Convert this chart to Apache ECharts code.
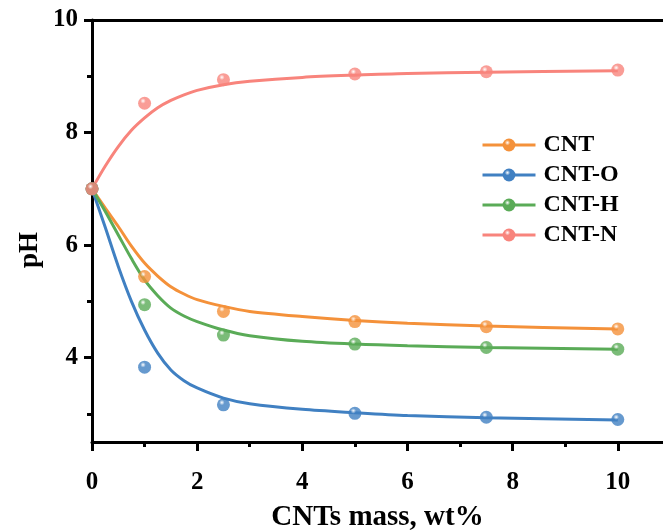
<!DOCTYPE html>
<html>
<head>
<meta charset="utf-8">
<script src="https://cdn.jsdelivr.net/npm/echarts@6/dist/echarts.min.js"></script>
<style>
  html, body { margin: 0; padding: 0; background: #fff; }
  #chart { width: 663px; height: 530px; }
</style>
</head>
<body>
<div id="chart"></div>
<script>
// Measured pH after adding CNTs (wt%)
const massX = [0, 1, 2.5, 5, 7.5, 10];
const phCNT  = [7.0, 5.44, 4.82, 4.64, 4.55, 4.51];
const phCNTO = [7.0, 3.83, 3.16, 3.01, 2.94, 2.90];
const phCNTH = [7.0, 4.94, 4.40, 4.24, 4.18, 4.15];
const phCNTN = [7.0, 8.52, 8.94, 9.04, 9.08, 9.11];

// Fitted trend curves
const fitX    = [0, 0.25, 0.5, 0.75, 1, 1.25, 1.5, 1.75, 2, 2.5, 3, 4, 5, 6, 7.5, 10];
const fitCNT  = [7.0, 6.66, 6.33, 5.98, 5.68, 5.45, 5.26, 5.13, 5.03, 4.91, 4.82, 4.73, 4.66, 4.61, 4.56, 4.51];
const fitCNTO = [7.0, 6.32, 5.62, 5.00, 4.49, 4.08, 3.78, 3.59, 3.46, 3.28, 3.18, 3.08, 3.02, 2.97, 2.93, 2.89];
const fitCNTH = [7.0, 6.60, 6.18, 5.76, 5.38, 5.10, 4.88, 4.74, 4.64, 4.49, 4.39, 4.29, 4.24, 4.21, 4.18, 4.15];
const fitCNTN = [7.0, 7.40, 7.75, 8.04, 8.26, 8.44, 8.57, 8.67, 8.75, 8.85, 8.91, 8.98, 9.02, 9.05, 9.07, 9.10];

const seriesNames = ['CNT', 'CNT-O', 'CNT-H', 'CNT-N'];
const seriesColors = ['#F4913A', '#4080C2', '#5AAB57', '#F8847C'];

const xMajor = [0, 2, 4, 6, 8, 10];
const xMinor = [1, 3, 5, 7, 9];
const yMajor = [4, 6, 8, 10];
const yMinor = [3, 5, 7, 9];

const FONT = '"Liberation Serif", "Times New Roman", serif';

function ball(c) {
  return new echarts.graphic.RadialGradient(0.38, 0.32, 0.75, [
    { offset: 0, color: '#ffffff' },
    { offset: 0.28, color: c },
    { offset: 1, color: c }
  ]);
}

function pairs(xs, ys) { return xs.map((x, i) => [x, ys[i]]); }

const fits = [fitCNT, fitCNTO, fitCNTH, fitCNTN];
const pts = [phCNT, phCNTO, phCNTH, phCNTN];

const series = [];
seriesNames.forEach((n, i) => {
  series.push({
    name: n, type: 'line', data: pairs(fitX, fits[i]),
    smooth: 0.3,
    symbol: 'circle', symbolSize: 12, showSymbol: false,
    lineStyle: { color: seriesColors[i], width: 3 },
    itemStyle: { color: ball(seriesColors[i]) },
    z: 2 + i, silent: true
  });
});
seriesNames.forEach((n, i) => {
  series.push({
    name: n, type: 'scatter', data: pairs(massX, pts[i]),
    symbol: 'circle', symbolSize: 13,
    itemStyle: { color: ball(seriesColors[i]) },
    z: 10 + i
  });
});

const black = { color: '#000', width: 3 };

const option = {
  animation: false,
  backgroundColor: '#fff',
  grid: { left: 92, top: 20, right: 0, bottom: 88, outerBoundsMode: 'none' },
  legend: {
    data: seriesNames,
    orient: 'vertical', left: 476, top: 128,
    itemWidth: 53, itemHeight: 16, itemGap: 6,
    lineStyle: { width: 3 },
    textStyle: { fontFamily: FONT, fontWeight: 'bold', fontSize: 24, color: '#000', padding: [0, 0, 0, 3] }
  },
  xAxis: [{
    type: 'value', min: 0, max: 10.86, position: 'bottom',
    axisLine: { show: true, lineStyle: black },
    axisTick: { show: true, length: 9, lineStyle: black, customValues: xMajor },
    axisLabel: { customValues: xMajor, margin: 28, fontFamily: FONT, fontWeight: 'bold', fontSize: 25, color: '#000' },
    splitLine: { show: false },
    name: 'CNTs mass, wt%', nameLocation: 'middle', nameGap: 61,
    nameTextStyle: { fontFamily: FONT, fontWeight: 'bold', fontSize: 29, color: '#000' }
  }, {
    type: 'value', min: 0, max: 10.86, position: 'bottom',
    axisLine: { show: false },
    axisTick: { show: true, length: 5, lineStyle: black, customValues: xMinor },
    axisLabel: { show: false }, splitLine: { show: false }
  }, {
    type: 'value', min: 0, max: 10.86, position: 'top',
    axisLine: { show: true, lineStyle: black },
    axisTick: { show: false }, axisLabel: { show: false }, splitLine: { show: false }
  }],
  yAxis: [{
    type: 'value', min: 2.5, max: 10, position: 'left',
    axisLine: { show: true, lineStyle: black },
    axisTick: { show: true, length: 8, lineStyle: black, customValues: yMajor },
    axisLabel: { customValues: yMajor, margin: 14, fontFamily: FONT, fontWeight: 'bold', fontSize: 25, color: '#000' },
    splitLine: { show: false }
  }, {
    type: 'value', min: 2.5, max: 10, position: 'left',
    axisLine: { show: false },
    axisTick: { show: true, length: 5, lineStyle: black, customValues: yMinor },
    axisLabel: { show: false }, splitLine: { show: false }
  }],
  graphic: [{
    type: 'text', x: 30, y: 250, rotation: Math.PI / 2,
    style: { text: 'pH', fontFamily: FONT, fontWeight: 'bold', fontSize: 27, fill: '#000', align: 'center', verticalAlign: 'middle' }
  }],
  series: series
};

const chart = echarts.init(document.getElementById('chart'), null, { renderer: 'canvas' });
chart.setOption(option);
</script>
</body>
</html>
